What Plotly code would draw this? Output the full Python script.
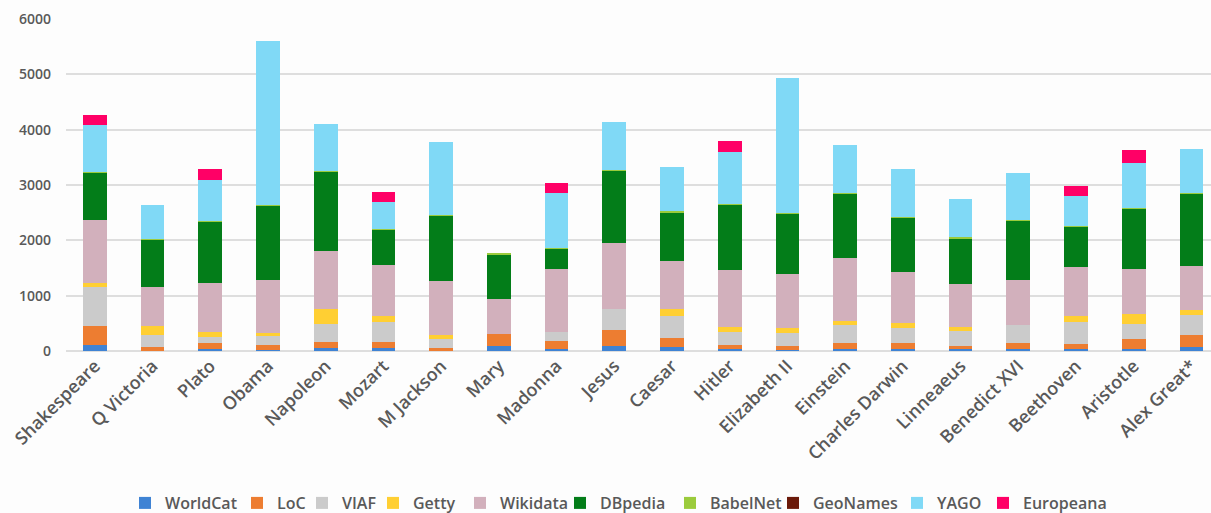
import plotly.graph_objects as go

# People and the number of links found for each in each knowledge source
people = ["Shakespeare", "Q Victoria", "Plato", "Obama", "Napoleon", "Mozart",
          "M Jackson", "Mary", "Madonna", "Jesus", "Caesar", "Hitler",
          "Elizabeth II", "Einstein", "Charles Darwin", "Linneaeus",
          "Benedict XVI", "Beethoven", "Aristotle", "Alex Great*"]

worldcat  = [100, 5, 40, 15, 48, 48, 8, 90, 42, 90, 66, 36, 18, 36, 36, 30, 36, 30, 42, 78]
loc       = [350, 70, 110, 85, 120, 120, 40, 225, 138, 285, 174, 78, 66, 114, 114, 66, 102, 102, 180, 210]
viaf      = [700, 210, 100, 170, 322, 352, 175, 0, 165, 390, 390, 233, 239, 311, 269, 263, 323, 389, 269, 371]
getty     = [70, 175, 100, 55, 275, 108, 62, 0, 0, 0, 130, 78, 96, 78, 84, 72, 0, 108, 186, 78]
wikidata  = [1150, 690, 885, 960, 1040, 925, 980, 620, 1135, 1180, 866, 1040, 967, 1148, 919, 780, 822, 894, 800, 805]
dbpedia   = [850, 865, 1100, 1350, 1430, 645, 1190, 810, 365, 1320, 885, 1185, 1100, 1162, 994, 831, 1077, 730, 1100, 1307]
babelnet  = [10, 15, 15, 10, 15, 12, 10, 20, 10, 15, 15, 10, 15, 10, 10, 10, 10, 10, 15, 10]
geonames  = [0] * 20
yago      = [850, 610, 740, 2950, 860, 475, 1305, 0, 1005, 850, 805, 940, 2427, 864, 863, 689, 841, 537, 812, 783]
europeana = [190, 0, 205, 0, 0, 180, 0, 0, 175, 0, 0, 195, 0, 0, 0, 0, 0, 188, 228, 0]

series = [
    ("WorldCat", worldcat, "#3f83d4"),
    ("LoC", loc, "#ed7d31"),
    ("VIAF", viaf, "#cbcbcb"),
    ("Getty", getty, "#ffcf33"),
    ("Wikidata", wikidata, "#d2b0bc"),
    ("DBpedia", dbpedia, "#037d19"),
    ("BabelNet", babelnet, "#9bcb3c"),
    ("GeoNames", geonames, "#6b1a0a"),
    ("YAGO", yago, "#80d9f6"),
    ("Europeana", europeana, "#ff0066"),
]

# Left edge (in px) of each legend swatch along the bottom row
legend_px = [145, 257, 322, 393, 480, 580, 690, 793, 917, 1003]

W, H = 1211, 513
text_color = "#595959"
legend_font = dict(size=16, color=text_color, weight=600)

fig = go.Figure()
layout_legends = {}
for i, ((name, vals, color), px) in enumerate(zip(series, legend_px)):
    key = "legend" if i == 0 else f"legend{i + 1}"
    fig.add_trace(go.Bar(
        x=people, y=vals, name=name,
        marker=dict(color=color, line=dict(width=0)),
        legend=key, showlegend=True,
    ))
    layout_legends[key] = dict(
        orientation="h",
        xref="container", yref="container",
        x=(px - 20) / W, xanchor="left",
        y=1 - 503 / H, yanchor="middle",
        font=legend_font,
        itemwidth=30,
        bgcolor="rgba(0,0,0,0)",
        visible=True,
    )

fig.update_layout(
    barmode="stack",
    bargap=0.59,
    showlegend=True,
    width=W, height=H,
    margin=dict(l=66, r=0, t=19, b=162, autoexpand=False),
    paper_bgcolor="#fdfdfd",
    plot_bgcolor="#fdfdfd",
    font=dict(family="Open Sans", color=text_color),
    xaxis=dict(
        range=[-0.5, 19.34],
        tickangle=-45,
        tickfont=dict(size=18, color=text_color, weight=600),
        showgrid=False, showline=False, ticks="",
        automargin=False,
    ),
    yaxis=dict(
        range=[0, 6000],
        dtick=1000,
        tickfont=dict(size=14, color=text_color, weight=600),
        gridcolor="#dedede", gridwidth=1.5,
        zeroline=True, zerolinecolor="#dedede", zerolinewidth=1.5,
        ticklabelstandoff=14,
        automargin=False,
    ),
    **layout_legends,
)

fig.write_html("out.html")
